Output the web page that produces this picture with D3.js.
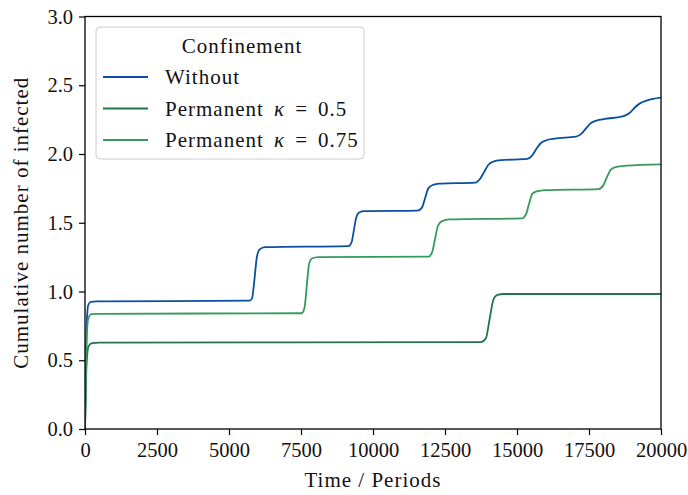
<!DOCTYPE html>
<html lang="en">
<head>
<meta charset="UTF-8">
<title>Cumulative number of infected</title>
<script src="https://d3js.org/d3.v7.min.js"></script>
<style>
  body { margin: 0; background: #fff; }
  svg text { font-family: "Liberation Serif", "DejaVu Serif", serif; fill: #111; }
  .lbl { font-size: 21px; letter-spacing: 1px; }
</style>
</head>
<body>
<svg id="chart"></svg>
<script>
// time (periods) and cumulative infected
const withoutT = [0, 50, 110, 200, 400,
  5700, 5800, 5880, 5960, 6060, 6250,
  9150, 9260, 9340, 9420, 9520, 9700,
  11550, 11700, 11810, 11920, 12080, 12300,
  13550, 13720, 13860, 14000, 14180, 14450,
  15350, 15530, 15680, 15830, 16020, 16300,
  17050, 17250, 17410, 17570, 17760, 18050,
  18700, 18920, 19100, 19280, 19520, 20000];
const withoutV = [0, 0.7, 0.9, 0.925, 0.928,
  0.933, 0.95, 1.08, 1.24, 1.305, 1.322,
  1.33, 1.36, 1.45, 1.54, 1.575, 1.584,
  1.588, 1.61, 1.68, 1.75, 1.775, 1.784,
  1.792, 1.82, 1.87, 1.92, 1.945, 1.955,
  1.964, 1.99, 2.04, 2.08, 2.1, 2.112,
  2.126, 2.15, 2.19, 2.225, 2.243, 2.255,
  2.276, 2.3, 2.34, 2.37, 2.39, 2.41];

const perm05T = [0, 50, 120, 250, 500, 13750, 13920, 14050, 14180, 14320, 14550, 20000];
const perm05V = [0, 0.45, 0.6, 0.625, 0.628, 0.632, 0.66, 0.8, 0.94, 0.975, 0.982, 0.982];

const perm075T = [0, 50, 110, 220, 450,
  7520, 7620, 7700, 7780, 7880, 8100,
  11930, 12060, 12160, 12260, 12400, 12650,
  15170, 15310, 15420, 15530, 15680, 16000,
  17830, 17990, 18120, 18250, 18420, 18800, 20000];
const perm075V = [0, 0.6, 0.8, 0.835, 0.838,
  0.842, 0.88, 1.04, 1.2, 1.24, 1.25,
  1.253, 1.29, 1.39, 1.48, 1.512, 1.524,
  1.532, 1.56, 1.64, 1.71, 1.728, 1.737,
  1.745, 1.77, 1.83, 1.885, 1.905, 1.915, 1.925];

const seriesNames = ["Without", "Permanent κ = 0.5", "Permanent κ = 0.75"];
const seriesColors = ["#0a4fa2", "#22744b", "#36995f"];
const xTicks = [0, 2500, 5000, 7500, 10000, 12500, 15000, 17500, 20000];
const yTicks = [0.0, 0.5, 1.0, 1.5, 2.0, 2.5, 3.0];

const series = [
  { name: seriesNames[0], color: seriesColors[0], pts: withoutT.map((t, i) => [t, withoutV[i]]) },
  { name: seriesNames[1], color: seriesColors[1], pts: perm05T.map((t, i) => [t, perm05V[i]]) },
  { name: seriesNames[2], color: seriesColors[2], pts: perm075T.map((t, i) => [t, perm075V[i]]) }
];

const W = 688, H = 495;
const margin = { top: 16.5, right: 27, bottom: 66, left: 85 };
const width = W - margin.left - margin.right;
const height = H - margin.top - margin.bottom;

const svg = d3.select("#chart").attr("width", W).attr("height", H);
const g = svg.append("g").attr("transform", `translate(${margin.left},${margin.top})`);

const x = d3.scaleLinear().domain([0, 20000]).range([0, width]);
const y = d3.scaleLinear().domain([0, 3]).range([height, 0]);

const line = d3.line()
  .x(d => x(d[0]))
  .y(d => y(d[1]))
  .curve(d3.curveMonotoneX);

g.append("defs").append("clipPath").attr("id", "clip")
  .append("rect").attr("width", width).attr("height", height);

g.selectAll(".series")
  .data(series)
  .enter()
  .append("path")
  .attr("clip-path", "url(#clip)")
  .attr("d", d => line(d.pts))
  .attr("fill", "none")
  .attr("stroke", d => d.color)
  .attr("stroke-width", 1.8);

// axes
const xAxis = g.append("g")
  .attr("transform", `translate(0,${height})`)
  .call(d3.axisBottom(x).tickValues(xTicks).tickFormat(d3.format("d")).tickSize(6).tickPadding(5));
const yAxis = g.append("g")
  .call(d3.axisLeft(y).tickValues(yTicks).tickFormat(d3.format(".1f")).tickSize(6).tickPadding(6));
[xAxis, yAxis].forEach(a => {
  a.select(".domain").remove();
  a.selectAll("line").attr("stroke", "#000").attr("stroke-width", 1.2);
  a.selectAll("text").style("font-size", "20.5px").attr("fill", "#111");
});
xAxis.selectAll("text").attr("dy", "0.85em");

g.append("rect")
  .attr("width", width).attr("height", height)
  .attr("fill", "none").attr("stroke", "#000").attr("stroke-width", 1.3);

svg.append("text").attr("class", "lbl")
  .attr("x", margin.left + width / 2).attr("y", 487)
  .attr("text-anchor", "middle")
  .text("Time / Periods");

svg.append("text").attr("class", "lbl")
  .attr("transform", `translate(28,${margin.top + height / 2}) rotate(-90)`)
  .attr("text-anchor", "middle")
  .text("Cumulative number of infected");

// legend
const legend = svg.append("g").attr("transform", "translate(96,27)");
legend.append("rect")
  .attr("width", 268).attr("height", 132).attr("rx", 4)
  .attr("fill", "#fff").attr("fill-opacity", 0.8)
  .attr("stroke", "#ccc").attr("stroke-width", 1);
legend.append("text").attr("class", "lbl")
  .attr("x", 146).attr("y", 26).attr("text-anchor", "middle")
  .text("Confinement");
series.forEach((s, i) => {
  const yy = 50 + i * 31.5;
  legend.append("line")
    .attr("x1", 7).attr("x2", 52).attr("y1", yy).attr("y2", yy)
    .attr("stroke", s.color).attr("stroke-width", 1.8);
  const t = legend.append("text").attr("class", "lbl").attr("x", 69).attr("y", yy + 7);
  if (i === 0) {
    t.text(s.name);
  } else {
    const parts = s.name.split("κ");
    t.append("tspan").text(parts[0]);
    t.append("tspan").style("font-style", "italic").attr("dx", 4).text("κ");
    const rest = parts[1].trim().split(" ");
    t.append("tspan").attr("dx", 10).text(rest[0]);
    t.append("tspan").attr("dx", 10).text(rest[1]);
  }
});
</script>
</body>
</html>
